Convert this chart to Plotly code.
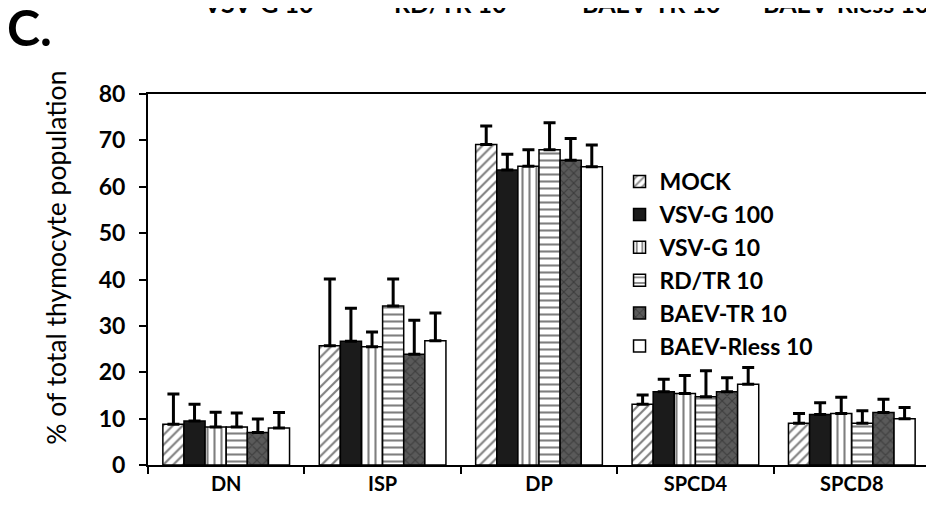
import plotly.graph_objs as go

FONT = "Lato"

categories = ["DN", "ISP", "DP", "SPCD4", "SPCD8"]
series_names = ["MOCK", "VSV-G 100", "VSV-G 10", "RD/TR 10", "BAEV-TR 10", "BAEV-Rless 10"]

# bar heights (% of total thymocyte population)
mock = [8.8, 25.7, 69.1, 13.1, 9.0]
vsvg100 = [9.5, 26.7, 63.6, 15.8, 10.9]
vsvg10 = [8.2, 25.5, 64.4, 15.4, 11.1]
rdtr10 = [8.2, 34.3, 68.0, 14.7, 9.0]
baevtr10 = [7.0, 23.9, 65.7, 15.8, 11.3]
baevrless10 = [8.0, 26.8, 64.3, 17.4, 10.0]

# upper error (SD)
mock_err = [6.5, 14.4, 4.0, 2.0, 2.1]
vsvg100_err = [3.6, 7.1, 3.4, 2.7, 2.5]
vsvg10_err = [3.2, 3.2, 3.6, 3.9, 3.5]
rdtr10_err = [3.0, 5.8, 5.8, 5.6, 2.7]
baevtr10_err = [2.9, 7.3, 4.7, 3.0, 2.9]
baevrless10_err = [3.3, 6.0, 4.7, 3.6, 2.4]

values = [mock, vsvg100, vsvg10, rdtr10, baevtr10, baevrless10]
errors = [mock_err, vsvg100_err, vsvg10_err, rdtr10_err, baevtr10_err, baevrless10_err]

# fill style per series: (pattern shape, bg colour, fg colour)
styles = [
    ("/", "white", "black"),
    ("", "#1b1b1b", "black"),
    ("|", "white", "black"),
    ("-", "white", "black"),
    ("x", "#5a5a5a", "#1e1e1e"),
    ("", "white", "black"),
]

# labels cut off at the top edge (legend of the panel above)
top_labels = ["VSV-G 10", "RD/TR 10", "BAEV-TR 10", "BAEV-Rless 10"]
top_label_x = [0.141, 0.386, 0.643, 0.893]

fig = go.Figure()
for name, vals, errs, (shape, bg, fg) in zip(series_names, values, errors, styles):
    fig.add_trace(go.Bar(
        name=name, x=categories, y=vals,
        marker=dict(color=bg, line=dict(color="black", width=1.5),
                    pattern=dict(shape=shape, bgcolor=bg, fgcolor=fg, size=7, solidity=0.3)),
        error_y=dict(type="data", array=errs, arrayminus=[0] * len(errs), symmetric=False,
                     color="black", thickness=3, width=6),
    ))

# page body has an 8px margin, so the figure is 8px smaller than the window
fig.update_layout(
    width=926, height=502,
    paper_bgcolor="white", plot_bgcolor="white",
    margin=dict(l=140, r=2, t=86, b=45),
    barmode="group", bargap=0.19, bargroupgap=0,
    font=dict(family=FONT, color="black"),
    showlegend=True,
    legend=dict(x=0.603, y=0.822, xanchor="left", yanchor="top", bgcolor="rgba(0,0,0,0)",
                font=dict(size=23, family=FONT, weight="bold"), tracegroupgap=0,
                itemwidth=30),
    xaxis=dict(showline=True, linecolor="black", linewidth=2, mirror=True,
               ticks="outside", ticklen=7, tickwidth=2, tickcolor="black",
               tickson="boundaries",
               tickfont=dict(size=20, family=FONT, weight="bold")),
    yaxis=dict(range=[0, 80], dtick=10, showline=True, linecolor="black", linewidth=2, mirror=True,
               showgrid=False, zeroline=False,
               ticks="outside", ticklen=7, tickwidth=2, tickcolor="black",
               ticklabelstandoff=9,
               tickfont=dict(size=23, family=FONT, weight="bold")),
)

# y title sits above the axis centre in the original, so place it by hand
fig.add_annotation(text="% of total thymocyte population", xref="paper", yref="paper",
                   x=-0.118, y=0.558, textangle=-90, xanchor="center", yanchor="middle",
                   showarrow=False, font=dict(size=26.5, family=FONT))
fig.add_annotation(text="C.", xref="paper", yref="paper", x=-0.152, y=1.18,
                   xanchor="center", yanchor="middle", showarrow=False,
                   font=dict(size=50, family=FONT, weight="bold"))
for txt, xp in zip(top_labels, top_label_x):
    fig.add_annotation(text=txt, xref="paper", yref="paper", x=xp, y=1.245,
                       xanchor="center", yanchor="middle", showarrow=False,
                       font=dict(size=25, family=FONT, weight="bold"))

fig.write_html("out.html")
